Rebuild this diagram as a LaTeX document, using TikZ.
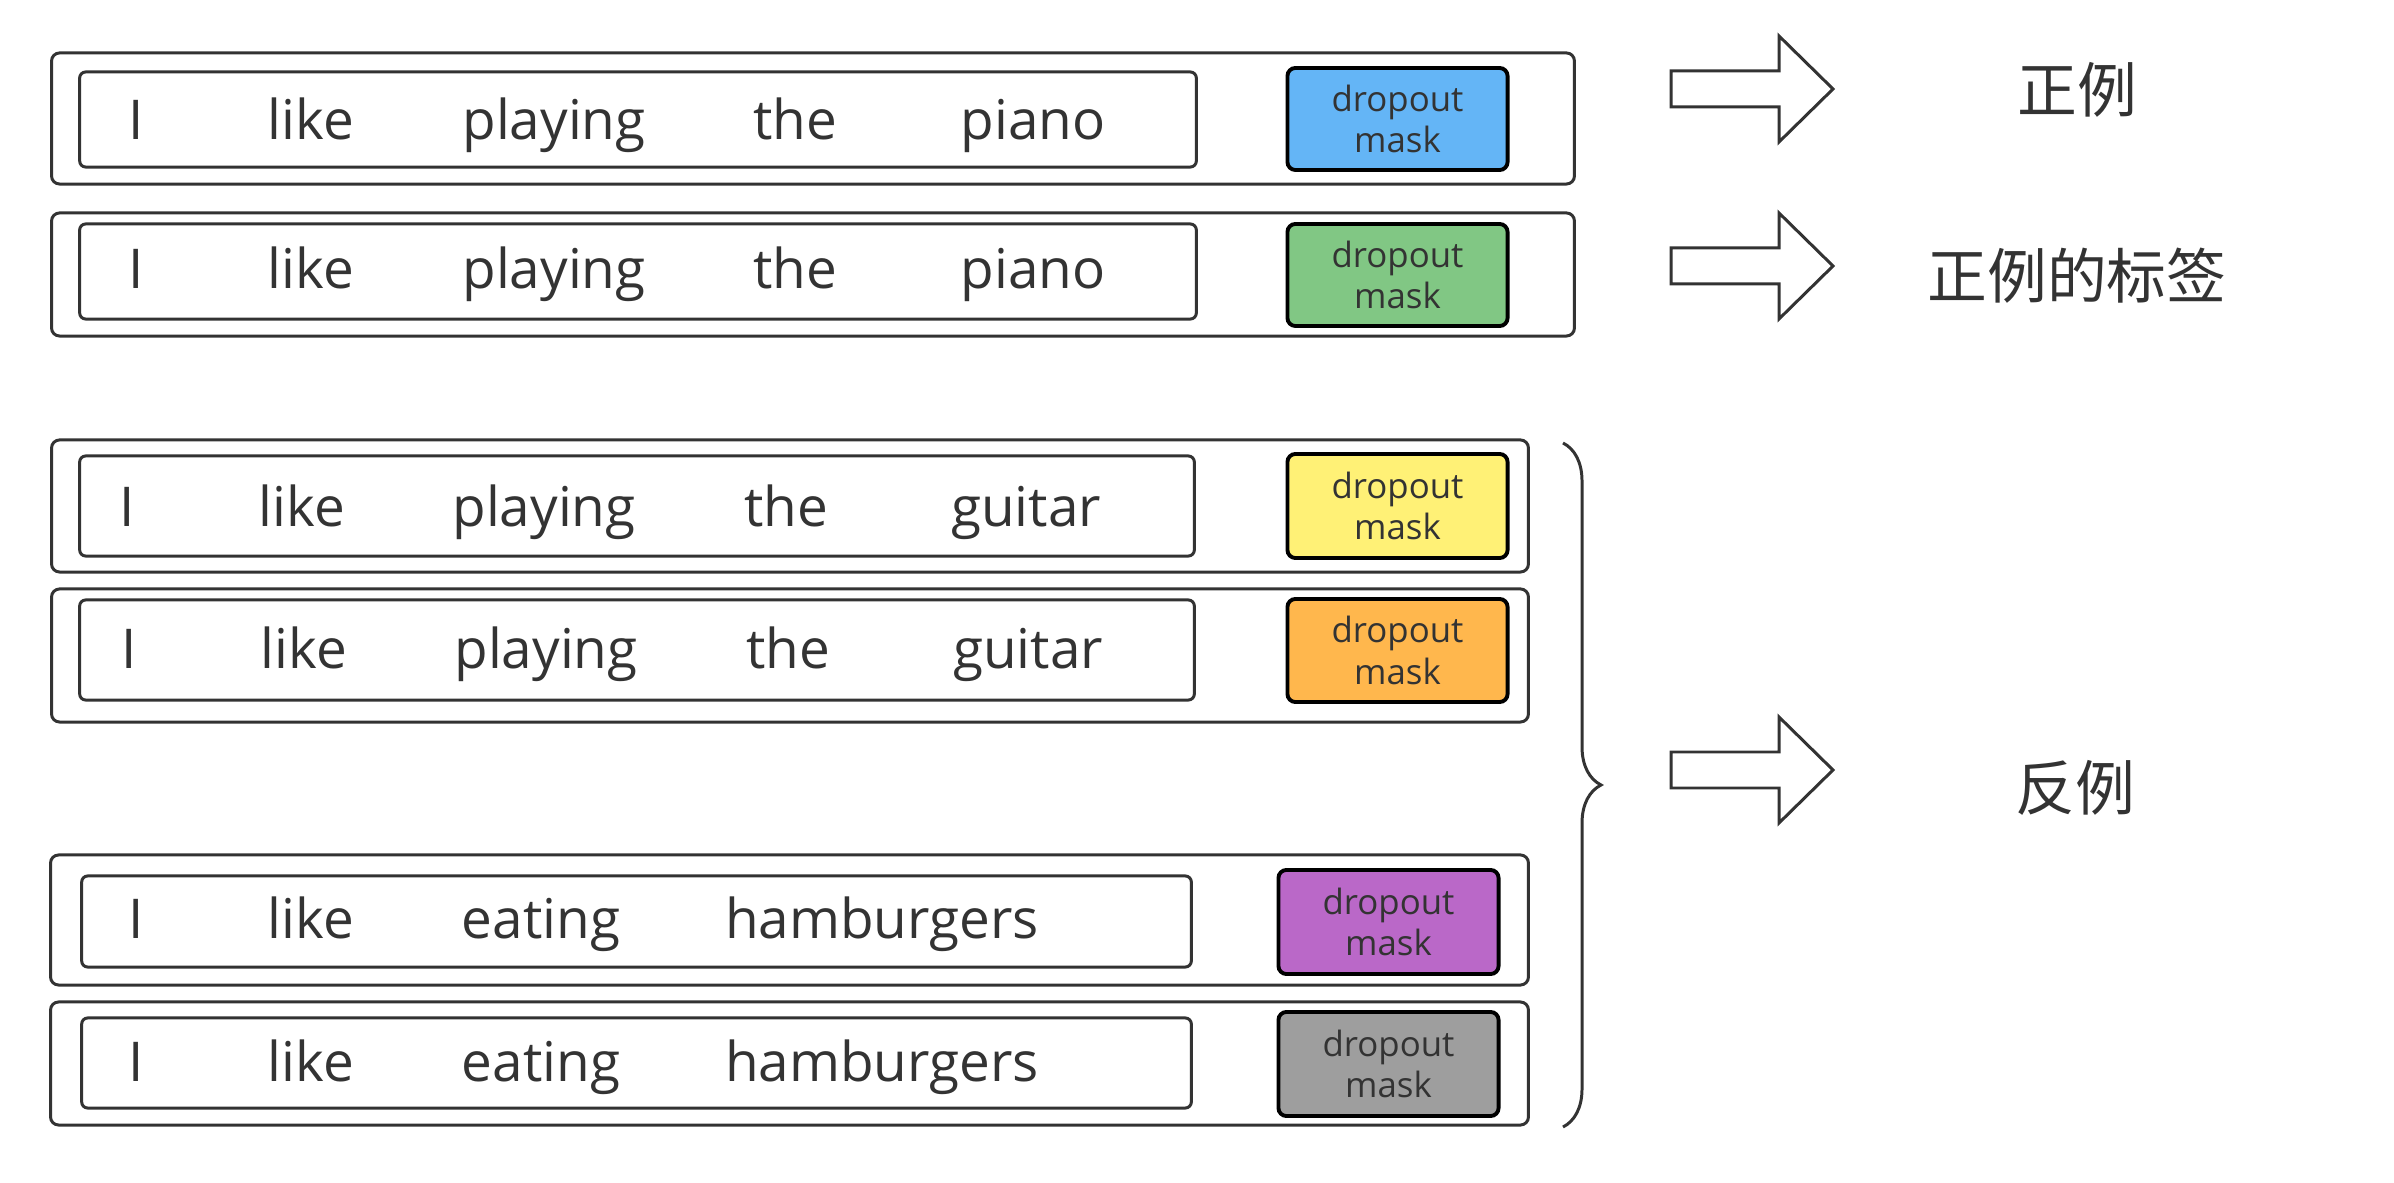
\documentclass[tikz,border=0pt]{standalone}
\usepackage{fontspec}
\setmainfont{Open Sans}
\newfontfamily\cjk{Noto Sans CJK SC}
\usetikzlibrary{decorations.pathreplacing}

\definecolor{ink}{HTML}{333333}
\definecolor{maskblue}{HTML}{64B5F6}
\definecolor{maskgreen}{HTML}{81C784}
\definecolor{maskyellow}{HTML}{FFF176}
\definecolor{maskorange}{HTML}{FFB74D}
\definecolor{maskpurple}{HTML}{BA68C8}
\definecolor{maskgrey}{HTML}{9E9E9E}

\tikzset{
  outerbox/.style={draw=ink, line width=0.85pt, rounded corners=0.08cm, inner sep=0pt},
  sentbox/.style={draw=ink, line width=0.85pt, rounded corners=0.06cm, inner sep=0pt},
  maskbox/.style={draw=black, line width=1.1pt, rounded corners=0.08cm, fill=#1,
    minimum width=2.2cm, align=center, inner sep=0pt, text=ink,
    font=\fontsize{9.9}{11.7}\selectfont},
  word/.style={anchor=base, inner sep=0pt, text=ink, font=\fontsize{15.6}{18}\selectfont},
  label/.style={text=ink, font=\cjk\fontsize{17}{20}\selectfont},
}

\begin{document}
\begin{tikzpicture}[x=0.01cm, y=-0.01cm]
    \useasboundingbox (0,0) rectangle (2394,1183);

    % positive pair
    \node[outerbox, minimum width=15.22cm, minimum height=1.31cm] (o1) at (813,118.5) {};
    \node[outerbox, minimum width=15.22cm, minimum height=1.23cm] (o2) at (813,274.5) {};
    \node[sentbox, minimum width=11.16cm, minimum height=0.95cm] (s1) at (638,119.5) {};
    \node[sentbox, minimum width=11.16cm, minimum height=0.95cm] (s2) at (638,271.5) {};
    \node[maskbox=maskblue, minimum height=1.02cm] (m1) at (1397.5,119) {dropout\\mask};
    \node[maskbox=maskgreen, minimum height=1.02cm] (m2) at (1397.5,275) {dropout\\mask};

    % negatives
    \node[outerbox, minimum width=14.76cm, minimum height=1.32cm] (o3) at (790,506) {};
    \node[outerbox, minimum width=14.76cm, minimum height=1.33cm] (o4) at (790,655.5) {};
    \node[outerbox, minimum width=14.77cm, minimum height=1.30cm] (o5) at (789.5,920) {};
    \node[outerbox, minimum width=14.77cm, minimum height=1.23cm] (o6) at (789.5,1063.5) {};
    \node[sentbox, minimum width=11.14cm, minimum height=1.00cm] (s3) at (637,506) {};
    \node[sentbox, minimum width=11.14cm, minimum height=1.00cm] (s4) at (637,650) {};
    \node[sentbox, minimum width=11.09cm, minimum height=0.91cm] (s5) at (636.5,921.5) {};
    \node[sentbox, minimum width=11.09cm, minimum height=0.90cm] (s6) at (636.5,1063) {};
    \node[maskbox=maskyellow, minimum height=1.04cm] (m3) at (1397.5,506) {dropout\\mask};
    \node[maskbox=maskorange, minimum height=1.03cm] (m4) at (1397.5,650.5) {dropout\\mask};
    \node[maskbox=maskpurple, minimum height=1.04cm] (m5) at (1388.5,922) {dropout\\mask};
    \node[maskbox=maskgrey, minimum height=1.04cm] (m6) at (1388.5,1064) {dropout\\mask};

    % words
    \foreach \r/\yb in {1/140, 2/289}
        \foreach \w/\x [count=\i] in {I/136, like/311, playing/554, the/795, piano/1033}
            \node[word] (w\r-\i) at (\x,\yb) {\w};
    \foreach \r/\yb/\dx in {3/527/0, 4/669/2}
        \foreach \w/\x [count=\i] in {I/127, like/302, playing/544, the/786, guitar/1026}
            \node[word] (w\r-\i) at (\x+\dx,\yb) {\w};
    \foreach \r/\yb in {5/939, 6/1081}
        \foreach \w/\x [count=\i] in {I/136, like/311, eating/541, hamburgers/882}
            \node[word] (w\r-\i) at (\x,\yb) {\w};

    % brace over the negatives
    \coordinate (btop) at (1563,443);
    \coordinate (bbot) at (1563,1127);
    \draw[ink, line width=0.85pt, decorate, decoration={brace, amplitude=0.38cm}] (btop) -- (bbot);

    % block arrows
    \foreach \y in {89, 266, 770}
        \draw[ink, line width=0.85pt, line join=miter]
            (1671,\y-18) -- (1779,\y-18) -- (1779,\y-53) -- (1833,\y)
            -- (1779,\y+53) -- (1779,\y+18) -- (1671,\y+18) -- cycle;

    \node[label] (pos) at (2077,90) {正例};
    \node[label] (poslabel) at (2077,276) {正例的标签};
    \node[label] (neg) at (2075,788) {反例};
\end{tikzpicture}
\end{document}
